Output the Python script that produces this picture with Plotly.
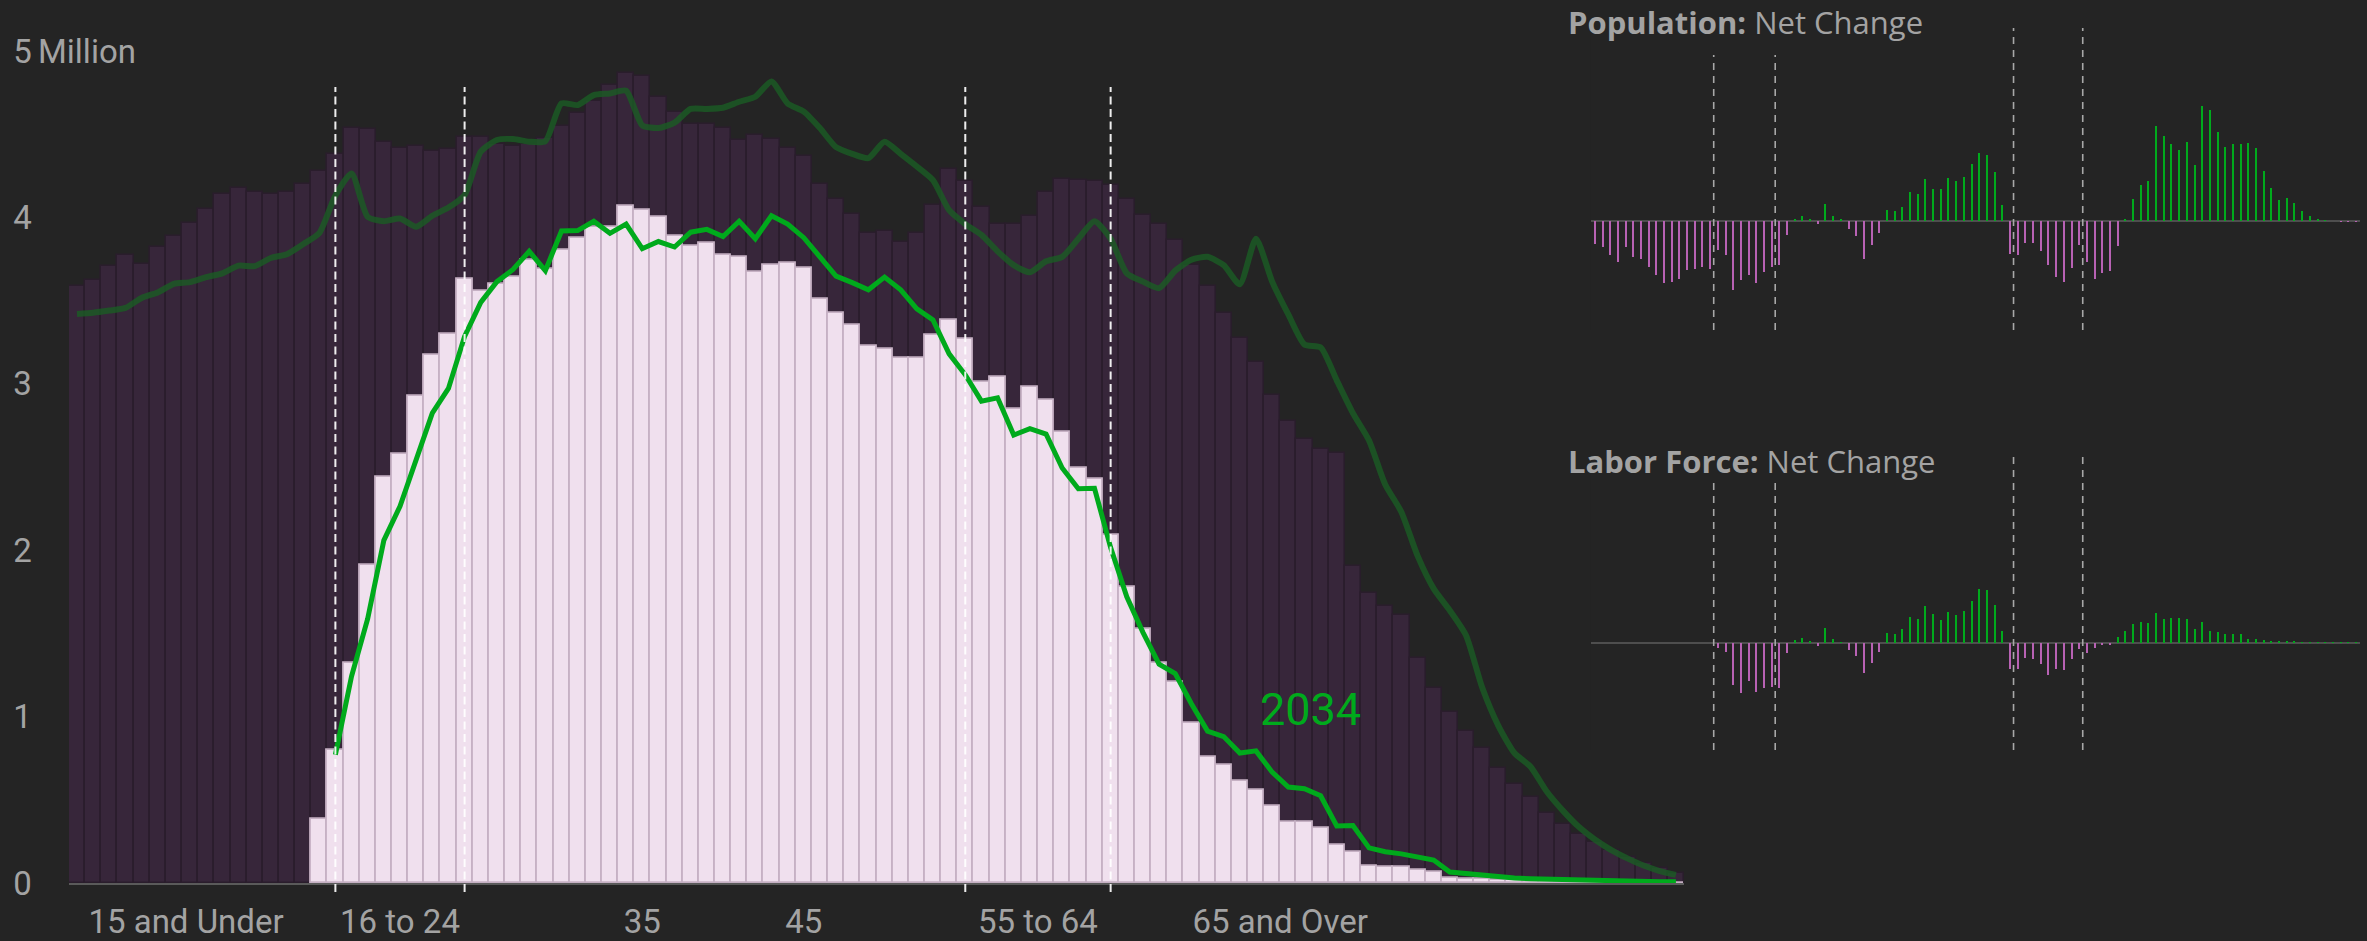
import plotly.graph_objects as go

W, H = 2367, 941

# ---------------- data (millions) ----------------
AGES = list(range(100))

POP_2024 = [3.588, 3.624, 3.710, 3.776, 3.720, 3.825, 3.891, 3.967, 4.053, 4.142,
            4.175, 4.155, 4.142, 4.152, 4.198, 4.280, 4.379, 4.537, 4.530, 4.451,
            4.415, 4.428, 4.402, 4.409, 4.484, 4.481, 4.440, 4.432, 4.440, 4.475,
            4.550, 4.630, 4.700, 4.794, 4.866, 4.847, 4.722, 4.633, 4.560, 4.563,
            4.537, 4.465, 4.497, 4.471, 4.420, 4.372, 4.200, 4.109, 4.023, 3.904,
            3.918, 3.855, 3.904, 4.076, 4.290, 4.220, 4.060, 3.960, 3.960, 4.010,
            4.155, 4.230, 4.227, 4.220, 4.194, 4.112, 4.017, 3.960, 3.862, 3.713,
            3.585, 3.427, 3.275, 3.130, 2.930, 2.778, 2.669, 2.610, 2.587, 1.908,
            1.743, 1.664, 1.611, 1.354, 1.170, 1.028, 0.913, 0.810, 0.689, 0.596,
            0.514, 0.418, 0.356, 0.297, 0.247, 0.198, 0.155, 0.122, 0.089, 0.063]

LF_2024 = [None, None, None, None, None, None, None, None, None, None,
           None, None, None, None, None, 0.382, 0.797, 1.325, 1.911, 2.441,
           2.580, 2.929, 3.173, 3.298, 3.631, 3.558, 3.598, 3.641, 3.746, 3.687,
           3.802, 3.878, 3.944, 3.944, 4.066, 4.043, 4.003, 3.888, 3.829, 3.845,
           3.776, 3.763, 3.674, 3.713, 3.723, 3.694, 3.509, 3.423, 3.351, 3.229,
           3.212, 3.153, 3.153, 3.292, 3.384, 3.272, 3.008, 3.038, 2.847, 2.979,
           2.903, 2.712, 2.494, 2.428, 2.089, 1.776, 1.529, 1.321, 1.209, 0.962,
           0.758, 0.708, 0.616, 0.557, 0.465, 0.369, 0.369, 0.333, 0.227, 0.188,
           0.105, 0.099, 0.096, 0.079, 0.069, 0.030, 0.026, 0.023, 0.020, 0.016,
           0.013, 0.011, 0.009, 0.008, 0.007, 0.006, 0.005, 0.004, 0.003, 0.003]

POP_2034 = [3.420, 3.427, 3.440, 3.456, 3.516, 3.549, 3.601, 3.611, 3.641, 3.664,
            3.710, 3.707, 3.756, 3.779, 3.839, 3.905, 4.132, 4.264, 4.003, 3.977,
            3.993, 3.944, 4.010, 4.059, 4.135, 4.395, 4.465, 4.471, 4.455, 4.458,
            4.685, 4.675, 4.735, 4.745, 4.761, 4.553, 4.537, 4.570, 4.652, 4.652,
            4.659, 4.695, 4.725, 4.817, 4.685, 4.636, 4.537, 4.422, 4.382, 4.356,
            4.455, 4.382, 4.306, 4.224, 4.043, 3.960, 3.895, 3.796, 3.713, 3.670,
            3.736, 3.763, 3.872, 3.977, 3.872, 3.664, 3.614, 3.575, 3.680, 3.746,
            3.763, 3.713, 3.598, 3.872, 3.614, 3.417, 3.236, 3.219, 3.021, 2.824,
            2.659, 2.395, 2.230, 1.967, 1.769, 1.638, 1.489, 1.176, 0.946, 0.781,
            0.699, 0.550, 0.435, 0.336, 0.260, 0.198, 0.148, 0.105, 0.072, 0.049]

LF_2034 = [None, None, None, None, None, None, None, None, None, None,
           None, None, None, None, None, None, 0.771, 1.242, 1.588, 2.059,
           2.264, 2.544, 2.824, 2.972, 3.285, 3.489, 3.614, 3.687, 3.796, 3.680,
           3.918, 3.921, 3.977, 3.904, 3.960, 3.812, 3.855, 3.822, 3.911, 3.928,
           3.885, 3.977, 3.872, 4.010, 3.960, 3.878, 3.763, 3.647, 3.608, 3.565,
           3.641, 3.565, 3.450, 3.384, 3.180, 3.054, 2.896, 2.916, 2.692, 2.731,
           2.698, 2.494, 2.369, 2.372, 2.016, 1.720, 1.506, 1.315, 1.259, 1.077,
           0.913, 0.880, 0.781, 0.794, 0.666, 0.577, 0.567, 0.524, 0.343, 0.346,
           0.211, 0.188, 0.175, 0.155, 0.138, 0.066, 0.056, 0.046, 0.036, 0.030,
           0.026, 0.023, 0.020, 0.016, 0.013, 0.013, 0.010, 0.010, 0.007, 0.007]

POP_NET_CHANGE = [-0.180, -0.206, -0.272, -0.325, -0.206, -0.286, -0.299, -0.365, -0.431, -0.492,
                  -0.484, -0.460, -0.392, -0.378, -0.365, -0.378, -0.233, -0.272, -0.545, -0.471,
                  -0.431, -0.492, -0.405, -0.365, -0.352, -0.108, 0.019, 0.037, 0.013, -0.026,
                  0.138, 0.037, 0.008, -0.061, -0.122, -0.299, -0.193, -0.095, 0.085, 0.077,
                  0.111, 0.230, 0.217, 0.336, 0.251, 0.257, 0.341, 0.315, 0.352, 0.450,
                  0.540, 0.526, 0.389, 0.124, -0.259, -0.272, -0.172, -0.172, -0.238, -0.347,
                  -0.444, -0.484, -0.373, -0.193, -0.325, -0.458, -0.413, -0.397, -0.201, 0.019,
                  0.172, 0.283, 0.315, 0.751, 0.677, 0.614, 0.561, 0.624, 0.444, 0.910,
                  0.884, 0.704, 0.585, 0.608, 0.608, 0.622, 0.579, 0.399, 0.262, 0.169,
                  0.185, 0.140, 0.077, 0.037, 0.011, 0.005, 0.000, -0.005, -0.003, -0.003]

LF_NET_CHANGE = [None, None, None, None, None, None, None, None, None, None,
                 None, None, None, None, None, None, -0.040, -0.071, -0.336, -0.397,
                 -0.304, -0.389, -0.357, -0.349, -0.362, -0.085, 0.021, 0.034, 0.013, -0.024,
                 0.114, 0.029, 0.003, -0.058, -0.106, -0.243, -0.159, -0.077, 0.074, 0.069,
                 0.106, 0.206, 0.190, 0.294, 0.228, 0.177, 0.243, 0.220, 0.251, 0.333,
                 0.426, 0.415, 0.299, 0.090, -0.212, -0.206, -0.124, -0.127, -0.172, -0.254,
                 -0.209, -0.217, -0.130, -0.053, -0.085, -0.045, -0.021, -0.019, 0.042, 0.095,
                 0.148, 0.167, 0.153, 0.233, 0.185, 0.198, 0.198, 0.185, 0.106, 0.164,
                 0.095, 0.082, 0.069, 0.066, 0.066, 0.029, 0.026, 0.021, 0.016, 0.011,
                 0.008, 0.008, 0.005, 0.003, 0.002, 0.001, 0.001, 0.001, 0.001, 0.001]

X_TICK_POS = [6.75, 20, 35, 45, 59.5, 74.5]
X_TICK_TEXT = ["15 and Under", "16 to 24", "35", "45", "55 to 64", "65 and Over"]
Y_TICK_VALS = [0, 1, 2, 3, 4, 5]
Y_TICK_TEXT = ["0", "1", "2", "3", "4", "5"]
MAIN_BOUNDS = [16, 24, 55, 64]
CHANGE_BOUNDS = [15.5, 23.5, 54.5, 63.5]

# ---------------- styling ----------------
BG = "#242424"
PURPLE = "#37263a"
PINK = "#f0e0ee"
GREEN = "#00aa1c"
DARK_GREEN = "rgba(26,92,36,0.8)"
NEG = "#b862b4"
TXT = "#a3a3a3"
MAIN_FONT = "Roboto, 'DejaVu Sans', sans-serif"
TITLE_FONT = "'Open Sans', 'Noto Sans', sans-serif"


def fx(p):
    return p / W


def fy(p):
    return 1 - p / H


fig = go.Figure()

# main chart
fig.add_trace(go.Bar(x=AGES, y=POP_2024, width=1, marker=dict(color=PURPLE, line=dict(color="#2a1d2c", width=1.5)),
                     xaxis="x", yaxis="y", showlegend=False, hoverinfo="skip"))
fig.add_trace(go.Scatter(x=AGES, y=POP_2034, mode="lines", line=dict(color=DARK_GREEN, width=6, shape="spline", smoothing=0.6),
                         xaxis="x", yaxis="y", showlegend=False, hoverinfo="skip"))
fig.add_trace(go.Bar(x=AGES, y=LF_2024, width=1, marker=dict(color=PINK, line=dict(color="#c6b1c4", width=1.8)),
                     xaxis="x", yaxis="y", showlegend=False, hoverinfo="skip"))
fig.add_trace(go.Scatter(x=AGES, y=LF_2034, mode="lines", line=dict(color=GREEN, width=5),
                         xaxis="x", yaxis="y", showlegend=False, hoverinfo="skip"))

# net change charts
def colors(vals):
    return [GREEN if (v is not None and v >= 0) else NEG for v in vals]

fig.add_trace(go.Bar(x=AGES, y=POP_NET_CHANGE, width=0.26, marker=dict(color=colors(POP_NET_CHANGE), line=dict(width=0)),
                     xaxis="x2", yaxis="y2", showlegend=False, hoverinfo="skip"))
fig.add_trace(go.Bar(x=AGES, y=LF_NET_CHANGE, width=0.26, marker=dict(color=colors(LF_NET_CHANGE), line=dict(width=0)),
                     xaxis="x3", yaxis="y3", showlegend=False, hoverinfo="skip"))

shapes = []
for b in MAIN_BOUNDS:
    shapes.append(dict(type="line", xref="x", yref="paper", x0=b, x1=b, y0=fy(892), y1=fy(87),
                       line=dict(color="rgba(255,255,255,0.92)", width=2, dash="8px,4.5px"), layer="above"))
for i, b in enumerate(CHANGE_BOUNDS):
    top1 = 55 if i < 2 else 28
    top2 = 478 if i < 2 else 451
    shapes.append(dict(type="line", xref="x2", yref="paper", x0=b, x1=b, y0=fy(330), y1=fy(top1),
                       line=dict(color="#a8a8a8", width=1.6, dash="7px,6px"), layer="above"))
    shapes.append(dict(type="line", xref="x3", yref="paper", x0=b, x1=b, y0=fy(750), y1=fy(top2),
                       line=dict(color="#a8a8a8", width=1.6, dash="7px,6px"), layer="above"))

annotations = [
    dict(text="Million", xref="paper", yref="y", x=fx(36), y=5, xanchor="left", yanchor="middle",
         showarrow=False, font=dict(family=MAIN_FONT, size=33, color=TXT)),
    dict(text="2034", xref="x", yref="y", x=76.35, y=1.04, xanchor="center", yanchor="middle",
         showarrow=False, font=dict(family=MAIN_FONT, size=45, color=GREEN)),
    dict(text="<b>Population:</b> Net Change", xref="paper", yref="paper", x=fx(1566), y=fy(22),
         xanchor="left", yanchor="middle", showarrow=False, font=dict(family=TITLE_FONT, size=31, color=TXT)),
    dict(text="<b>Labor Force:</b> Net Change", xref="paper", yref="paper", x=fx(1566), y=fy(461),
         xanchor="left", yanchor="middle", showarrow=False, font=dict(family=TITLE_FONT, size=31, color=TXT)),
]

ymax_main = (883 - 40) / 166.4
fig.update_layout(
    width=W, height=H, paper_bgcolor=BG, plot_bgcolor=BG,
    margin=dict(l=0, r=0, t=0, b=0), barmode="overlay", bargap=0,
    shapes=shapes, annotations=annotations, showlegend=False,
    xaxis=dict(domain=[fx(68.9), fx(1684)], range=[-0.5, 99.5], showgrid=False, zeroline=False,
               showline=True, linecolor="#5a5a5a", linewidth=2,
               tickmode="array", tickvals=X_TICK_POS, ticktext=X_TICK_TEXT, ticks="",
               tickfont=dict(family=MAIN_FONT, size=33, color=TXT), ticklabelstandoff=8,
               automargin=False, fixedrange=True),
    yaxis=dict(domain=[fy(883), fy(40)], range=[0, ymax_main], showgrid=False, zeroline=False,
               showline=False, tickmode="array", tickvals=Y_TICK_VALS, ticktext=Y_TICK_TEXT, ticks="",
               tickfont=dict(family=MAIN_FONT, size=33, color=TXT), ticklabelstandoff=36,
               automargin=False, fixedrange=True),
    xaxis2=dict(domain=[fx(1590.7), fx(2359.5)], range=[-0.5, 99.5], visible=False, anchor="y2"),
    yaxis2=dict(domain=[fy(330), fy(28)], range=[-(330 - 221) / 126, (221 - 28) / 126], anchor="x2",
                showgrid=False, showticklabels=False, zeroline=True, zerolinecolor="#4e4e4e", zerolinewidth=2,
                showline=False),
    xaxis3=dict(domain=[fx(1590.7), fx(2359.5)], range=[-0.5, 99.5], visible=False, anchor="y3"),
    yaxis3=dict(domain=[fy(750), fy(451)], range=[-(750 - 642.7) / 126, (642.7 - 451) / 126], anchor="x3",
                showgrid=False, showticklabels=False, zeroline=True, zerolinecolor="#4e4e4e", zerolinewidth=2,
                showline=False),
)

fig.write_html("out.html", config={"displayModeBar": False})

# remove the browser's default page margin so the figure fills the window exactly
with open("out.html", "r", encoding="utf-8") as f:
    html = f.read()
html = html.replace("<head>", "<head><style>html,body{margin:0;padding:0;overflow:hidden;background:#242424;}</style>", 1)
with open("out.html", "w", encoding="utf-8") as f:
    f.write(html)
